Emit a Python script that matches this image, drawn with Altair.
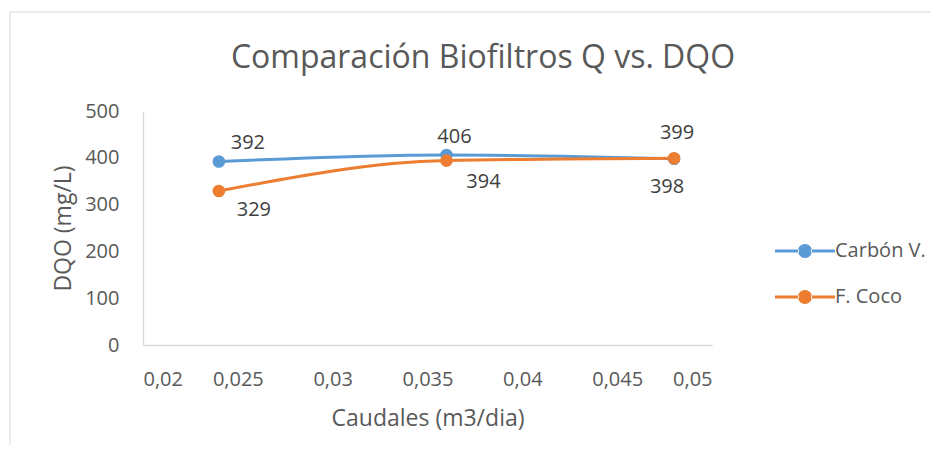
import altair as alt
import pandas as pd

# ---- data ----
caudales = [0.024, 0.036, 0.048]
carbon_v = [392, 406, 398]
f_coco = [329, 394, 399]
series_names = ["Carbón V.", "F. Coco"]
x_ticks = [0.02, 0.025, 0.03, 0.035, 0.04, 0.045, 0.05]
y_ticks = [0, 100, 200, 300, 400, 500]
title_text = "Comparación Biofiltros Q vs. DQO"

rows = []
for i, q in enumerate(caudales):
    rows.append({"Q": q, "DQO": carbon_v[i], "Serie": series_names[0], "idx": i})
    rows.append({"Q": q, "DQO": f_coco[i], "Serie": series_names[1], "idx": i})
df = pd.DataFrame(rows)

FONT = "Open Sans"
GRAY = "#595959"
colors = ["#5B9BD5", "#ED7D31"]

x_enc = alt.X("Q:Q", scale=alt.Scale(domain=[0.02, 0.05], nice=False, zero=False),
              axis=alt.Axis(values=x_ticks, title="Caudales (m3/dia)",
                            labelExpr="replace(format(datum.value, '.3~f'), '.', ',')",
                            grid=False, ticks=False, domainColor="#D9D9D9", domainWidth=1.3,
                            labelPadding=24, titlePadding=18,
                            labelFontSize=20, titleFontSize=23, labelColor=GRAY, titleColor=GRAY,
                            labelFont=FONT, titleFont=FONT, titleFontWeight="normal"))
y_enc = alt.Y("DQO:Q", scale=alt.Scale(domain=[0, 500], nice=False),
              axis=alt.Axis(values=y_ticks, title="DQO (mg/L)", grid=False, ticks=False,
                            domainColor="#D9D9D9", domainWidth=1.3,
                            labelPadding=24, titlePadding=9,
                            labelFontSize=20, titleFontSize=23, labelColor=GRAY, titleColor=GRAY,
                            labelFont=FONT, titleFont=FONT, titleFontWeight="normal"))
color_scale = alt.Scale(domain=series_names, range=colors)

legend_path = ("M-1,-0.05 L-0.2,-0.05 L-0.2,0.05 L-1,0.05 Z "
               "M0.2,-0.05 L1,-0.05 L1,0.05 L0.2,0.05 Z "
               "M-0.233,0 A0.233,0.233 0 1,0 0.233,0 A0.233,0.233 0 1,0 -0.233,0 Z")
legend = alt.Legend(title=None, orient="none", legendX=632, legendY=110,
                    symbolType=legend_path, symbolSize=3600,
                    symbolStrokeWidth=0, rowPadding=6,
                    labelFontSize=20, labelColor=GRAY, labelFont=FONT,
                    labelOffset=0)
color_enc = alt.Color("Serie:N", scale=color_scale, legend=legend)

base = alt.Chart(df)
lines = base.mark_line(interpolate="monotone", strokeWidth=3).encode(
    x=x_enc, y=y_enc, color=color_enc)
points = base.mark_point(filled=True, size=160, opacity=1).encode(
    x="Q:Q", y="DQO:Q", color=color_enc)

# label placement (style): offsets per (series, index)
offsets = {
    ("Carbón V.", 0): (29, -19), ("Carbón V.", 1): (8, -18), ("Carbón V.", 2): (-7, 28),
    ("F. Coco", 0): (35, 19), ("F. Coco", 1): (37, 21), ("F. Coco", 2): (3, -25),
}
label_layers = []
for (s, i), (dx, dy) in offsets.items():
    label_layers.append(
        base.transform_filter((alt.datum.Serie == s) & (alt.datum.idx == i))
        .mark_text(dx=dx, dy=dy, fontSize=20, font=FONT, color="#404040")
        .encode(x="Q:Q", y="DQO:Q", text="DQO:Q"))

one = pd.DataFrame({"t": [title_text]})
title_mark = alt.Chart(one).mark_text(fontSize=32, font=FONT, color=GRAY, align="center",
                                      baseline="middle").encode(
    x=alt.value(340), y=alt.value(-53), text="t:N")
frame_top = alt.Chart(one).mark_rule(color="#D9D9D9", strokeWidth=1).encode(
    x=alt.value(-133), x2=alt.value(800), y=alt.value(-99))
frame_left = alt.Chart(one).mark_rule(color="#D9D9D9", strokeWidth=1).encode(
    x=alt.value(-133), y=alt.value(-99), y2=alt.value(400))

chart = alt.layer(frame_top, frame_left, title_mark,
                  lines, points, *label_layers).properties(
    width=569, height=234,
    background="white",
    autosize=alt.AutoSizeParams(type="none"),
    padding={"left": 135, "top": 103, "right": 219, "bottom": 100},
).configure_view(stroke=None, strokeWidth=0)

chart.save("out.html", embed_options={"renderer": "svg", "actions": False})
